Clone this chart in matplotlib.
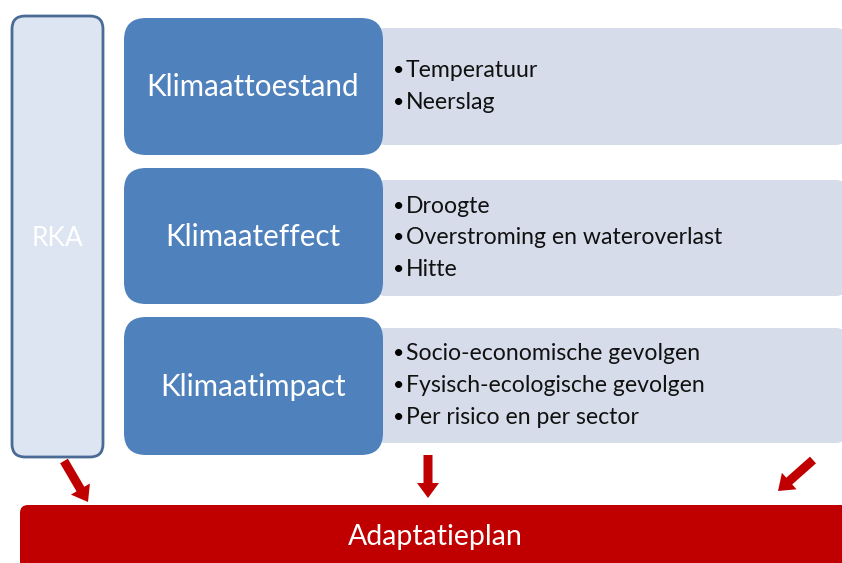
import matplotlib.pyplot as plt
from matplotlib.patches import FancyBboxPatch, FancyArrow

# DATA

side_label = "RKA"
stages = ["Klimaattoestand", "Klimaateffect", "Klimaatimpact"]
details = [
    ["Temperatuur", "Neerslag"],
    ["Droogte", "Overstroming en wateroverlast", "Hitte"],
    ["Socio-economische gevolgen", "Fysisch-ecologische gevolgen",
     "Per risico en per sector"],
]
result = "Adaptatieplan"

# colours
BLUE = "#4f81bd"
GREY = "#d6dce9"
PALE = "#dce5f1"
EDGE = "#4a6b96"
RED = "#c00000"

plt.rcParams["font.family"] = ["Lato", "DejaVu Sans"]

fig = plt.figure(figsize=(8.42, 5.63), dpi=100)
ax = fig.add_axes([0, 0, 1, 1])
ax.set_xlim(0, 842)
ax.set_ylim(563, 0)
ax.axis("off")


def rbox(x0, y0, x1, y1, r, **kw):
    p = FancyBboxPatch((x0 + r, y0 + r), (x1 - x0) - 2 * r, (y1 - y0) - 2 * r,
                       boxstyle=f"round,pad={r}", **kw)
    ax.add_patch(p)
    return p


# side box
rbox(12, 16, 103, 457, 13, facecolor=PALE, edgecolor=EDGE, linewidth=2)
ax.text(57, 238, side_label, color="white", fontsize=19,
        ha="center", va="center")

# stage rows
blue_rows = [(18, 155), (168, 304), (317, 455)]
grey_rows = [(28, 145), (180, 296), (328, 443)]

for i, name in enumerate(stages):
    gy0, gy1 = grey_rows[i]
    rbox(375, gy0, 846, gy1, 10, facecolor=GREY, edgecolor="none")
    by0, by1 = blue_rows[i]
    rbox(124, by0, 383, by1, 22, facecolor=BLUE, edgecolor="none")
    ax.text(253, (by0 + by1) / 2 + 1, name, color="white", fontsize=21.3,
            ha="center", va="center")
    items = details[i]
    yc = (gy0 + gy1) / 2
    for j, item in enumerate(items):
        yy = yc + (j - (len(items) - 1) / 2) * 31.5
        ax.text(393, yy, "\u2022", color="black", fontsize=14,
                ha="left", va="center")
        ax.text(406, yy, item, color="#111111", fontsize=16.6,
                ha="left", va="center")

# bottom bar
rbox(20, 505, 870, 600, 8, facecolor=RED, edgecolor="none")
ax.text(435, 537, result, color="white", fontsize=20.5,
        ha="center", va="center")

# arrows
arrows = [((64, 461), (24, 41)), ((428, 455), (0, 43)), ((813, 460), (-35, 31))]
for (x, y), (dx, dy) in arrows:
    ax.add_patch(FancyArrow(x, y, dx, dy, width=9, head_width=22,
                            head_length=15, length_includes_head=True,
                            color=RED, linewidth=0))

fig.savefig("out.png", dpi=100, facecolor="white")
